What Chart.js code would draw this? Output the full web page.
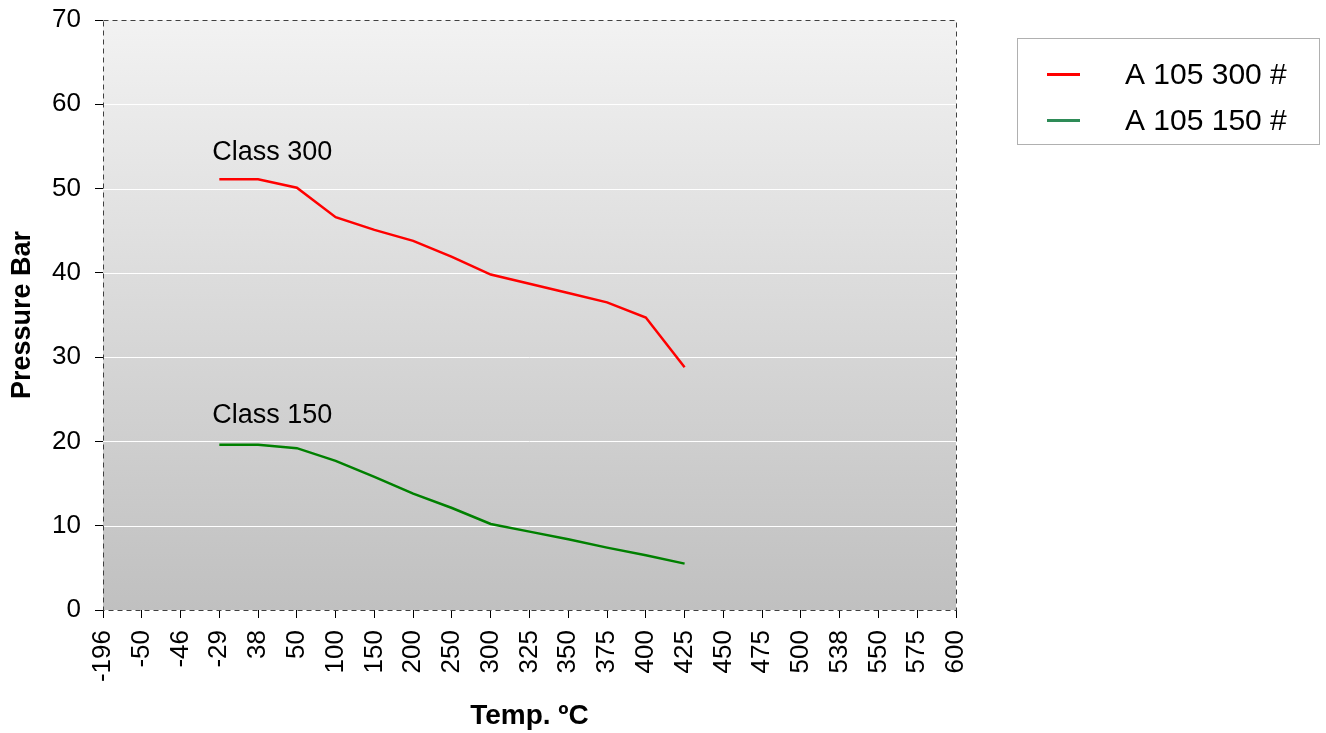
<!doctype html>
<html>
<head>
<meta charset="utf-8">
<script src="https://cdn.jsdelivr.net/npm/chart.js@4.4.1/dist/chart.umd.min.js"></script>
<style>
  html, body { margin: 0; padding: 0; background: #fff; }
  #wrap { width: 1326px; height: 733px; }
</style>
</head>
<body>
<div id="wrap"><canvas id="chart" width="1326" height="733"></canvas></div>
<script>
// temperatures (categories)
var temps = ['-196', '-50', '-46', '-29', '38', '50', '100', '150', '200', '250', '300', '325',
             '350', '375', '400', '425', '450', '475', '500', '538', '550', '575', '600'];
// pressure ratings, bar
var class300 = [null, null, null, 51.1, 51.1, 50.1, 46.6, 45.1, 43.8, 41.9, 39.8, 38.7,
                37.6, 36.5, 34.7, 28.8, null, null, null, null, null, null, null];
var class150 = [null, null, null, 19.6, 19.6, 19.2, 17.7, 15.8, 13.8, 12.1, 10.2, 9.3,
                8.4, 7.4, 6.5, 5.5, null, null, null, null, null, null, null];
var seriesNames = ['A 105 300 #', 'A 105 150 #'];
var lineColors = ['#ff0000', '#008000'];
var legendColors = ['#ff0000', '#2e8b57'];
// text labels next to the curves: [text, category, value]
var notes = [['Class 300', '-29', 54.3], ['Class 150', '-29', 23.1]];

var FONT = '"Liberation Sans", Arial, sans-serif';

var decor = {
    id: 'decor',
    beforeDraw: function(chart) {
        var ctx = chart.ctx, a = chart.chartArea;
        var g = ctx.createLinearGradient(0, a.top, 0, a.bottom);
        g.addColorStop(0, '#f2f2f2');
        g.addColorStop(1, '#c0c0c0');
        ctx.save();
        ctx.fillStyle = g;
        ctx.fillRect(a.left, a.top, a.right - a.left, a.bottom - a.top);
        ctx.restore();
    },
    beforeDatasetsDraw: function(chart) {
        var ctx = chart.ctx, a = chart.chartArea, y = chart.scales.y;
        ctx.save();
        ctx.strokeStyle = '#ffffff';
        ctx.lineWidth = 1;
        y.ticks.forEach(function(t) {
            var py = Math.round(y.getPixelForValue(t.value)) + 0.5;
            if (t.value <= 0 || t.value >= 70) return;
            ctx.beginPath();
            ctx.moveTo(a.left, py);
            ctx.lineTo(a.right, py);
            ctx.stroke();
        });
        // dashed frame
        ctx.strokeStyle = '#404040';
        ctx.setLineDash([5, 4]);
        ctx.strokeRect(a.left + 0.5, a.top + 0.5, a.right - a.left, a.bottom - a.top);
        ctx.restore();
    },
    afterDraw: function(chart) {
        var ctx = chart.ctx, x = chart.scales.x, y = chart.scales.y;
        ctx.save();
        ctx.fillStyle = '#000';
        ctx.font = '27px ' + FONT;
        ctx.textBaseline = 'middle';
        notes.forEach(function(n) {
            ctx.fillText(n[0], x.getPixelForValue(temps.indexOf(n[1])) - 7, y.getPixelForValue(n[2]));
        });
        // legend box
        var bx = 1017.5, by = 38.5, bw = 302, bh = 106;
        ctx.fillStyle = '#fff';
        ctx.fillRect(bx, by, bw, bh);
        ctx.strokeStyle = '#b0b0b0';
        ctx.lineWidth = 1;
        ctx.strokeRect(bx, by, bw, bh);
        ctx.font = '30px ' + FONT;
        seriesNames.forEach(function(name, i) {
            var ly = by + 36 + i * 46;
            ctx.strokeStyle = legendColors[i];
            ctx.lineWidth = 3;
            ctx.beginPath();
            ctx.moveTo(1047, ly);
            ctx.lineTo(1080, ly);
            ctx.stroke();
            ctx.fillStyle = '#000';
            ctx.fillText(name, 1125, ly + 1);
        });
        ctx.restore();
    }
};

new Chart(document.getElementById('chart'), {
    type: 'line',
    data: {
        labels: temps,
        datasets: [{
            label: seriesNames[0],
            data: class300,
            borderColor: lineColors[0],
            borderWidth: 2.5,
            pointRadius: 0,
            fill: false,
            tension: 0
        }, {
            label: seriesNames[1],
            data: class150,
            borderColor: lineColors[1],
            borderWidth: 2.5,
            pointRadius: 0,
            fill: false,
            tension: 0
        }]
    },
    options: {
        responsive: false,
        animation: false,
        layout: { padding: { top: 20, right: 370, left: 0, bottom: 0 } },
        plugins: {
            legend: { display: false },
            tooltip: { enabled: false }
        },
        scales: {
            x: {
                offset: false,
                border: { display: false },
                grid: { drawOnChartArea: false, drawTicks: true, tickLength: 8, color: '#000' },
                ticks: {
                    autoSkip: false, maxRotation: 90, minRotation: 90, padding: 12,
                    color: '#000', font: { family: FONT, size: 26 }
                },
                title: {
                    display: true, text: 'Temp. ºC', color: '#000',
                    font: { family: FONT, size: 28, weight: 'bold' }, padding: { top: 8, bottom: 0 }
                },
                afterFit: function(s) {
                    s.height = 123;
                    s.paddingLeft = 0; s.paddingRight = 0;
                }
            },
            y: {
                min: 0, max: 70,
                border: { display: false },
                grid: { drawOnChartArea: false, drawTicks: true, tickLength: 8, color: '#000' },
                ticks: {
                    stepSize: 10, padding: 14,
                    color: '#000', font: { family: FONT, size: 26 }
                },
                title: {
                    display: true, text: 'Pressure Bar', color: '#000',
                    font: { family: FONT, size: 27, weight: 'bold' }, padding: { bottom: 0, top: 6 }
                },
                afterFit: function(s) {
                    s.width = 103;
                    s.paddingTop = 0; s.paddingBottom = 0;
                }
            }
        }
    },
    plugins: [decor]
});
</script>
</body>
</html>
